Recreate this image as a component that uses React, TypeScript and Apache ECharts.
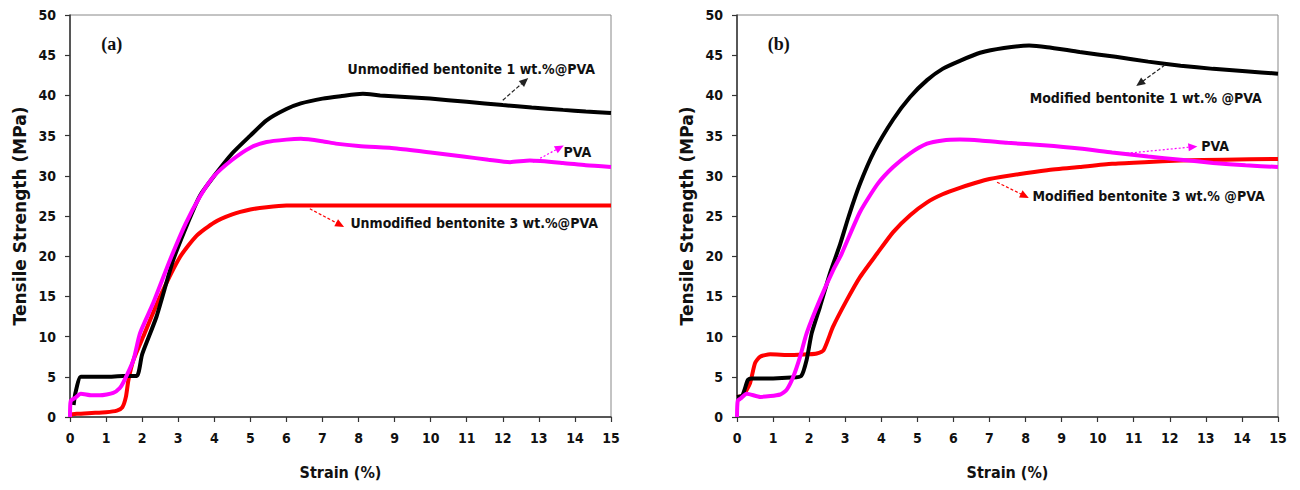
import React, { useEffect, useRef } from "react";
import * as echarts from "echarts";

type Pt = [number, number];

// Strain ticks and stress ticks
const strainTicks = [0, 15, 1];
const stressTicks = [0, 50, 5];

// Panel (a): unmodified bentonite
const aPVA: Pt[] = [
  [0, 0], [0.02, 2.0], [0.15, 2.4], [0.3, 2.9], [0.6, 2.7], [0.83, 2.7], [1.2, 3.0], [1.38, 3.6],
  [1.48, 4.3], [1.76, 7.1], [1.94, 10.4], [2.31, 14.2], [2.77, 19.5], [3.2, 24.0], [3.6, 27.4],
  [4.0, 30.0], [4.5, 32.0], [5.0, 33.5], [5.45, 34.2], [6.0, 34.5], [6.4, 34.6], [7.0, 34.3],
  [7.37, 34.0], [8.0, 33.7], [9.06, 33.4], [10.0, 32.9], [10.9, 32.4], [11.6, 32.0], [12.2, 31.7],
  [12.75, 31.9], [13.67, 31.6], [14.3, 31.3], [15, 31.1],
];
const aBent1: Pt[] = [
  [0.1, 1.5], [0.15, 3.0], [0.3, 5.0], [0.6, 5.0], [1.0, 5.0], [1.47, 5.1], [1.85, 5.1],
  [2.0, 7.8], [2.4, 12.5], [2.86, 19.5], [3.3, 24.5], [3.6, 27.5], [4.0, 30.0], [4.5, 32.8],
  [5.0, 35.0], [5.45, 36.9], [6.0, 38.3], [6.4, 39.0], [7.0, 39.6], [7.5, 39.9], [8.12, 40.2],
  [8.6, 40.0], [9.98, 39.6], [11.0, 39.2], [12.0, 38.8], [12.8, 38.5], [13.67, 38.2], [14.3, 38.0],
  [15, 37.8],
];
const aBent3: Pt[] = [
  [0, 0], [0.03, 0.3], [0.2, 0.4], [0.6, 0.5], [1.0, 0.6], [1.3, 0.8], [1.45, 1.2], [1.55, 2.5],
  [1.62, 4.6], [1.76, 7.1], [2.03, 10.0], [2.5, 15.0], [3.05, 19.9], [3.5, 22.5], [4.0, 24.2],
  [4.5, 25.2], [5.0, 25.8], [5.45, 26.1], [6.0, 26.3], [6.4, 26.3], [7, 26.3], [8, 26.3], [9, 26.3],
  [10, 26.3], [11, 26.3], [12, 26.3], [13, 26.3], [14, 26.3], [15, 26.3],
];

// Panel (b): modified bentonite
const bPVA: Pt[] = [
  [0, 0], [0.02, 2.0], [0.1, 2.3], [0.27, 2.9], [0.65, 2.5], [1.2, 2.8], [1.38, 3.4], [1.56, 5.0],
  [1.75, 7.5], [1.93, 10.4], [2.3, 14.6], [2.67, 18.3], [2.9, 20.3], [3.41, 25.5], [3.9, 29.0],
  [4.33, 31.1], [4.8, 32.8], [5.27, 34.0], [5.7, 34.4], [6.18, 34.5], [6.74, 34.4], [7.5, 34.1],
  [8.5, 33.8], [9.5, 33.4], [10.4, 32.9], [11.4, 32.4], [12.3, 32.0], [13.2, 31.6], [14.1, 31.3],
  [15, 31.1],
];
const bBent1: Pt[] = [
  [0, 2.5], [0.15, 2.7], [0.3, 4.6], [0.4, 4.8], [1.0, 4.8], [1.5, 4.9], [1.78, 5.1], [1.93, 7.1],
  [2.07, 10.4], [2.3, 13.7], [2.58, 17.9], [2.86, 21.5], [3.1, 25.0], [3.41, 29.0], [3.8, 33.0],
  [4.33, 37.0], [4.8, 39.8], [5.27, 41.9], [5.7, 43.3], [6.18, 44.3], [6.74, 45.3], [7.4, 45.9],
  [8.1, 46.2], [8.6, 46.0], [9.5, 45.4], [10.5, 44.8], [11.4, 44.2], [12.3, 43.7], [13.2, 43.3],
  [14.1, 43.0], [15, 42.7],
];
const bBent3: Pt[] = [
  [0, 2.5], [0.17, 2.7], [0.36, 4.2], [0.5, 6.7], [0.64, 7.5], [0.92, 7.8], [1.5, 7.7], [2.0, 7.8],
  [2.21, 7.9], [2.4, 8.3], [2.66, 11.2], [3.04, 14.5], [3.41, 17.4], [3.88, 20.3], [4.33, 23.0],
  [4.8, 25.1], [5.27, 26.7], [5.7, 27.7], [6.18, 28.5], [6.6, 29.1], [7.0, 29.6], [7.8, 30.2],
  [8.6, 30.7], [9.5, 31.1], [10.4, 31.5], [11.3, 31.7], [12.3, 31.9], [13.5, 32.0], [15, 32.1],
];

const seriesNames = {
  a: ["Unmodified bentonite 1 wt.%@PVA", "PVA", "Unmodified bentonite 3 wt.%@PVA"],
  b: ["Modified bentonite 1 wt.% @PVA", "PVA", "Modified bentonite 3 wt.% @PVA"],
};
const panelLabels = ["(a)", "(b)"];
const axisTitles = { x: "Strain (%)", y: "Tensile Strength (MPa)" };

// annotation anchors [label position], [arrow start], [arrow end] in data units
const aNotes = {
  bent1: { text: [7.68, 43.3] as Pt, from: [12.0, 39.4] as Pt, to: [12.61, 41.8] as Pt },
  pva: { text: [13.67, 33.0] as Pt, from: [12.84, 31.7] as Pt, to: [13.58, 33.5] as Pt },
  bent3: { text: [7.76, 24.1] as Pt, from: [6.65, 25.9] as Pt, to: [7.49, 23.9] as Pt },
};
const bNotes = {
  bent1: { text: [8.1, 39.7] as Pt, from: [11.87, 43.8] as Pt, to: [11.17, 41.5] as Pt },
  pva: { text: [12.86, 33.7] as Pt, from: [10.81, 32.8] as Pt, to: [12.64, 33.6] as Pt },
  bent3: { text: [8.18, 27.5] as Pt, from: [7.21, 29.2] as Pt, to: [7.98, 27.5] as Pt },
};
const labelPos: Pt = [1.16, 46.4];

const COLORS = { black: "#000000", pva: "#ff00ff", red: "#ff0000" };
const FONT = "'DejaVu Sans Condensed', 'DejaVu Sans', sans-serif";

function arrow(from: Pt, to: Pt, color: string, type: any) {
  return {
    silent: true,
    symbol: ["none", "triangle"],
    symbolSize: [8, 9],
    label: { show: false },
    lineStyle: { color, width: 1.2, type },
    data: [[{ coord: from }, { coord: to }]],
  };
}

function note(pos: Pt, text: string, extra: any = {}) {
  return {
    silent: true,
    data: [
      {
        coord: pos,
        symbol: "rect",
        symbolSize: 1,
        itemStyle: { color: "rgba(0,0,0,0)" },
        label: {
          show: true,
          position: "right",
          distance: 0,
          formatter: text,
          color: "#111",
          fontFamily: FONT,
          fontWeight: "bold",
          fontSize: 14,
          ...extra,
        },
      },
    ],
  };
}

function panelSeries(idx: number, names: string[], black: Pt[], pva: Pt[], red: Pt[], notes: any, tag: string) {
  const base = { type: "line", xAxisIndex: idx, yAxisIndex: idx, showSymbol: false, smooth: 0.2, z: 3 };
  return [
    {
      ...base,
      name: names[2],
      data: red,
      lineStyle: { color: COLORS.red, width: 4 },
      itemStyle: { color: COLORS.red },
      markLine: arrow(notes.bent3.from, notes.bent3.to, COLORS.red, [3, 2]),
      markPoint: note(notes.bent3.text, names[2]),
    },
    {
      ...base,
      name: names[0],
      data: black,
      lineStyle: { color: COLORS.black, width: 4 },
      itemStyle: { color: COLORS.black },
      markLine: arrow(notes.bent1.from, notes.bent1.to, "#222", [4, 2]),
      markPoint: note(notes.bent1.text, names[0]),
    },
    {
      ...base,
      name: names[1] + " " + tag,
      data: pva,
      lineStyle: { color: COLORS.pva, width: 4 },
      itemStyle: { color: COLORS.pva },
      markLine: arrow(notes.pva.from, notes.pva.to, COLORS.pva, [2, 2]),
      markPoint: {
        silent: true,
        data: [
          ...note(notes.pva.text, names[1]).data,
          {
            coord: labelPos,
            symbol: "rect",
            symbolSize: 1,
            itemStyle: { color: "rgba(0,0,0,0)" },
            label: {
              show: true,
              position: "inside",
              formatter: panelLabels[idx],
              color: "#111",
              fontFamily: "'Liberation Serif', 'Times New Roman', serif",
              fontWeight: "bold",
              fontSize: 18,
            },
          },
        ],
      },
    },
  ];
}

function xAxis(gridIndex: number) {
  return {
    type: "value",
    gridIndex,
    min: strainTicks[0],
    max: strainTicks[1],
    interval: strainTicks[2],
    name: axisTitles.x,
    nameLocation: "middle",
    nameGap: 47,
    nameTextStyle: { fontFamily: FONT, fontWeight: "bold", fontSize: 16, color: "#111" },
    axisLine: { show: true, lineStyle: { color: "#333", width: 1.5 } },
    axisTick: { show: true, length: 5, lineStyle: { color: "#333", width: 1.2 } },
    axisLabel: { fontFamily: FONT, fontWeight: "bold", fontSize: 14, color: "#111", margin: 14 },
    splitLine: { show: false },
  };
}

function yAxis(gridIndex: number) {
  return {
    type: "value",
    gridIndex,
    min: stressTicks[0],
    max: stressTicks[1],
    interval: stressTicks[2],
    name: axisTitles.y,
    nameLocation: "middle",
    nameRotate: 90,
    nameGap: 42,
    nameTextStyle: { fontFamily: "'DejaVu Sans', sans-serif", fontWeight: "bold", fontSize: 17, color: "#111" },
    axisLine: { show: true, lineStyle: { color: "#333", width: 1.5 } },
    axisTick: { show: true, length: 5, lineStyle: { color: "#333", width: 1.2 } },
    axisLabel: { fontFamily: FONT, fontWeight: "bold", fontSize: 14, color: "#111", margin: 14 },
    splitLine: { show: false },
  };
}

export default function App() {
  const ref = useRef<HTMLDivElement>(null);
  useEffect(() => {
    if (!ref.current) return;
    const chart = echarts.init(ref.current, undefined, { renderer: "svg" });
    chart.setOption({
      animation: false,
      backgroundColor: "#ffffff",
      grid: [
        { left: 70, top: 15, width: 541, height: 402, show: true, borderColor: "#888", borderWidth: 1 },
        { left: 737, top: 15, width: 541, height: 402, show: true, borderColor: "#888", borderWidth: 1 },
      ],
      xAxis: [xAxis(0), xAxis(1)],
      yAxis: [yAxis(0), yAxis(1)],
      series: [
        ...panelSeries(0, seriesNames.a, aBent1, aPVA, aBent3, aNotes, "a"),
        ...panelSeries(1, seriesNames.b, bBent1, bPVA, bBent3, bNotes, "b"),
      ],
    });
    return () => chart.dispose();
  }, []);
  return (
    <div
      ref={ref}
      style={{ position: "fixed", left: 0, top: 0, width: 1300, height: 490, background: "#fff" }}
    />
  );
}
